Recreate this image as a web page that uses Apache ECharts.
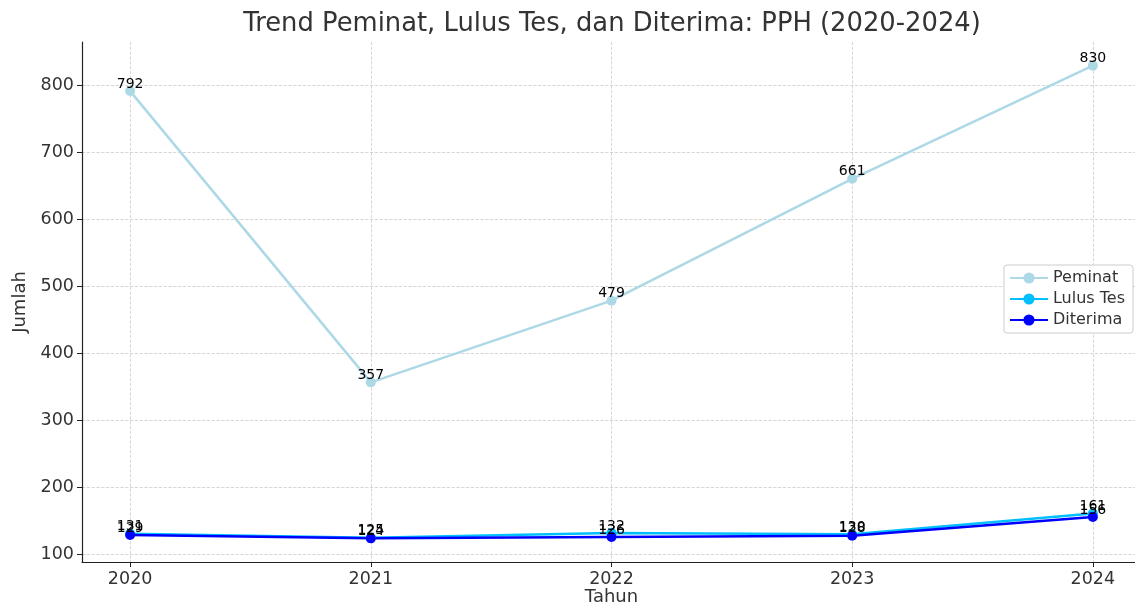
<!DOCTYPE html>
<html><head><meta charset="utf-8">
<script src="https://cdn.jsdelivr.net/npm/echarts@6/dist/echarts.min.js"></script>
<style>html,body{margin:0;padding:0;background:#fff}#c{width:1135px;height:603px}</style>
</head><body><div id="c"></div>
<script>
const years = [2020, 2021, 2022, 2023, 2024];
const peminat = [792, 357, 479, 661, 830];
const lulusTes = [131, 125, 132, 130, 161];
const diterima = [129, 124, 126, 128, 156];
const yTicks = [100, 200, 300, 400, 500, 600, 700, 800];

const font = 'DejaVu Sans';
function mk(name, vals, color) {
  return {
    name: name, type: 'line', data: years.map((y, i) => [y, vals[i]]),
    symbol: 'circle', symbolSize: 10,
    lineStyle: {color: color, width: 2.5}, itemStyle: {color: color},
    label: {show: true, position: 'top', distance: -5, color: '#000', fontFamily: font, fontSize: 14},
    emphasis: {disabled: true}
  };
}
const chart = echarts.init(document.getElementById('c'));
chart.setOption({
  animation: false,
  title: {text: 'Trend Peminat, Lulus Tes, dan Diterima: PPH (2020-2024)', left: 607, textAlign: 'center', top: 6,
    textStyle: {fontFamily: font, fontSize: 25.8, fontWeight: 'normal', color: '#333'}},
  grid: {left: 82, right: -6, top: 42, bottom: 41, outerBoundsMode: 'none', containLabel: false},
  legend: {orient: 'vertical', right: 2, top: 265, itemGap: 5, itemWidth: 38, itemHeight: 14,
    backgroundColor: '#fff', borderColor: '#ccc', borderWidth: 1, borderRadius: 3, padding: [5, 8, 5, 5],
    textStyle: {fontFamily: font, fontSize: 16, color: '#333'},
    data: ['Peminat', 'Lulus Tes', 'Diterima']},
  xAxis: {type: 'value', min: 2019.8, max: 2024.2, name: 'Tahun', nameLocation: 'middle', nameGap: 35, nameMoveOverlap: false,
    nameTextStyle: {fontFamily: font, fontSize: 18, color: '#333', verticalAlign: 'middle'},
    axisLine: {show: true, onZero: false, lineStyle: {color: '#222', width: 1.2}},
    axisTick: {show: true, customValues: years, length: 5, lineStyle: {color: '#222'}},
    axisLabel: {customValues: years, fontFamily: font, fontSize: 17.5, color: '#333', formatter: v => String(v), margin: 8},
    splitLine: {show: true, lineStyle: {color: '#ccc', type: 'dashed', width: 0.8}}},
  yAxis: {type: 'value', min: 88.7, max: 865.3, name: 'Jumlah', nameLocation: 'middle', nameGap: 52,
    nameTextStyle: {fontFamily: font, fontSize: 18, color: '#333'},
    axisLine: {show: true, lineStyle: {color: '#222', width: 1.2}},
    axisTick: {show: true, customValues: yTicks, length: 5, lineStyle: {color: '#222'}},
    axisLabel: {customValues: yTicks, fontFamily: font, fontSize: 17.5, color: '#333', margin: 8},
    splitLine: {show: true, lineStyle: {color: '#ccc', type: 'dashed', width: 0.8}}},
  series: [mk('Peminat', peminat, '#add8e6'), mk('Lulus Tes', lulusTes, '#00bfff'), mk('Diterima', diterima, '#0000ff')]
});
</script></body></html>
